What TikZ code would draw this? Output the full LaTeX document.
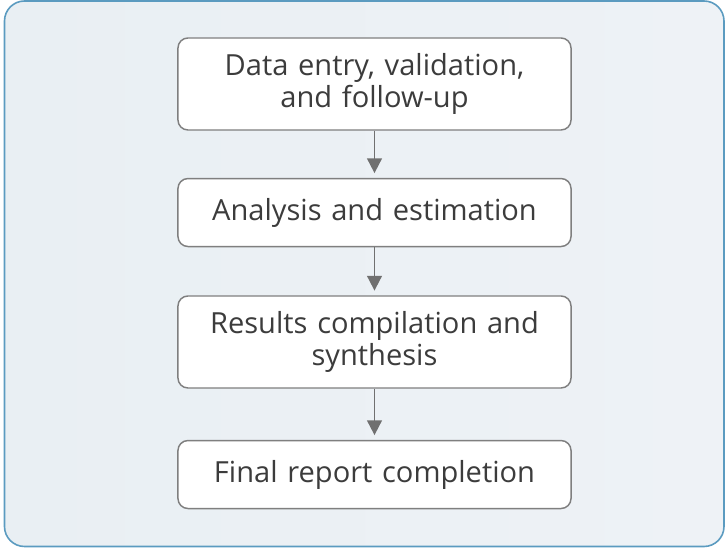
\documentclass[tikz,border=0pt]{standalone}
\usepackage{fontspec}
\setmainfont{Open Sans}
\usepackage{tikz}
\usetikzlibrary{arrows.meta}
\usetikzlibrary{positioning}
\definecolor{framecol}{HTML}{5B9BC0}
\definecolor{bgleft}{HTML}{E9EFF3}
\definecolor{bgright}{HTML}{EEF2F6}
\definecolor{boxline}{HTML}{7F7F7F}
\definecolor{textcol}{HTML}{3C3C3C}
\definecolor{arrowcol}{HTML}{707070}
\tikzset{
    stage/.style={
           rectangle,
           rounded corners=7.5pt,
           draw=boxline, line width=1.1pt,
           fill=white,
           text width=280pt,
           inner xsep=7.4pt,
           minimum height=51pt,
           text centered,
           text=textcol,
           font=\fontsize{21.8}{23.5}\selectfont,
           },
    stage2/.style={
           stage,
           minimum height=69pt,
           },
}

\begin{document}
\begin{tikzpicture}
[
x=0.75pt,y=-0.75pt,
-{Triangle[width=11pt,length=11pt]},
line width=1.4pt
]

 % canvas and frame
 \useasboundingbox (0,0) rectangle (726,548);
 \draw[-, left color=bgleft, right color=bgright, draw=framecol,
  line width=1.2pt, rounded corners=15pt] (4.5,1) rectangle (724,546.5);

 % STAGE ENTRY
 \node[stage2] (ENTRY) at (374.5,84)
 {%
 Data entry, validation,\\ and follow-up
 };

 % STAGE ANALYSIS
 \node[stage,
 below of=ENTRY,
 node distance=96.4pt] (ANALYSIS)
 {%
 Analysis and estimation
 };

 % STAGE RESULTS
 \node[stage2,
 below of=ANALYSIS,
 node distance=97.1pt] (RESULTS)
 {%
 Results compilation and\\ synthesis
 };

 % STAGE REPORT
 \node[stage,
 below of=RESULTS,
 node distance=99.4pt] (REPORT)
 {%
 Final report completion
 };

 % draw the paths between the stages
 \path[color=arrowcol, shorten >=3.5pt]
  (ENTRY) edge (ANALYSIS)
  (ANALYSIS) edge (RESULTS)
  (RESULTS) edge (REPORT)
 ;

\end{tikzpicture}
\end{document}
